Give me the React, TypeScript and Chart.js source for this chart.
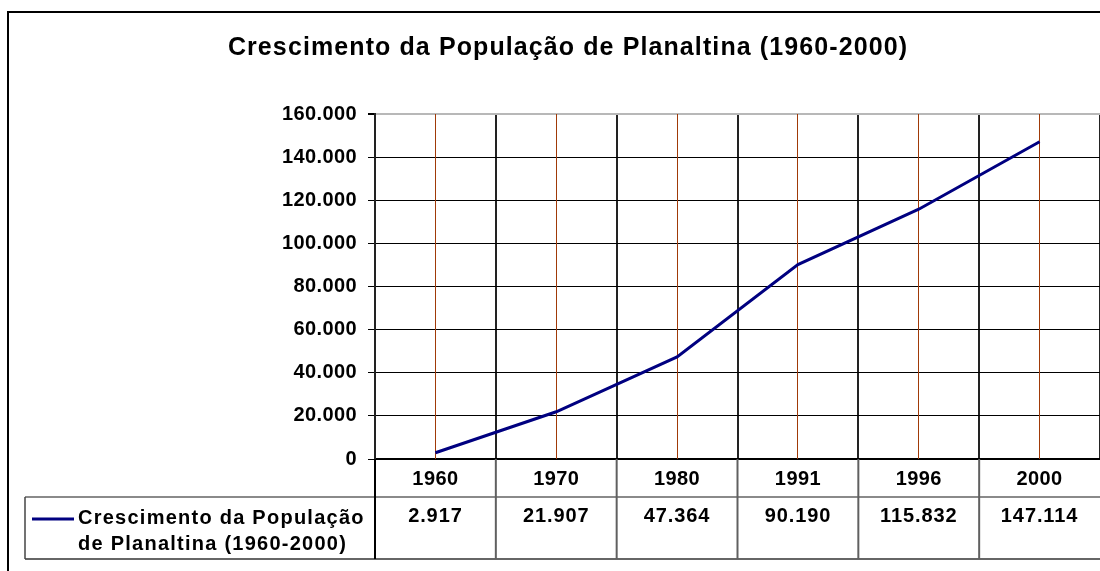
import React, { useEffect, useRef } from 'react';
import { Chart, registerables } from 'chart.js';

Chart.register(...registerables);

const titleText = 'Crescimento da População de Planaltina (1960-2000)';
const seriesNameLines = ['Crescimento da População', 'de Planaltina (1960-2000)'];
const years = ['1960', '1970', '1980', '1991', '1996', '2000'];
const population = [2917, 21907, 47364, 90190, 115832, 147114];
const populationLabels = ['2.917', '21.907', '47.364', '90.190', '115.832', '147.114'];
const yTickLabels = ['0', '20.000', '40.000', '60.000', '80.000', '100.000', '120.000', '140.000', '160.000'];
const yMax = 160000;
const yStep = 20000;

const FONT = '"Liberation Sans", Arial, Helvetica, sans-serif';
const NAVY = '#000080';

const decorPlugin = {
  id: 'excelDecor',
  beforeDraw(chart: any) {
    chart.ctx.letterSpacing = '0.4px';
  },
  beforeDatasetsDraw(chart: any) {
    const { ctx, chartArea, scales } = chart;
    const x = scales.x;
    ctx.save();
    ctx.strokeStyle = '#a03a08';
    ctx.lineWidth = 1;
    years.forEach((_, i) => {
      const px = Math.floor(x.getPixelForValue(i)) + 0.5;
      ctx.beginPath();
      ctx.moveTo(px, chartArea.top);
      ctx.lineTo(px, chartArea.bottom);
      ctx.stroke();
    });
    ctx.restore();
  },
  afterDraw(chart: any) {
    const { ctx, chartArea, scales } = chart;
    const x = scales.x;
    const rowTop = Math.round(x.bottom);
    const rowBottom = rowTop + 62;
    const legendLeft = 25;
    ctx.save();

    // horizontal table lines
    ctx.lineWidth = 2;
    ctx.strokeStyle = '#8a8a8a';
    ctx.beginPath();
    ctx.moveTo(legendLeft, rowTop);
    ctx.lineTo(chartArea.right, rowTop);
    ctx.stroke();
    ctx.strokeStyle = '#333';
    ctx.lineWidth = 1.5;
    ctx.beginPath();
    ctx.moveTo(legendLeft, rowBottom);
    ctx.lineTo(chartArea.right, rowBottom);
    ctx.stroke();

    // legend cell left border
    ctx.strokeStyle = '#444';
    ctx.beginPath();
    ctx.moveTo(legendLeft, rowTop);
    ctx.lineTo(legendLeft, rowBottom);
    ctx.stroke();

    // vertical table lines
    ctx.strokeStyle = '#000';
    ctx.lineWidth = 2;
    ctx.beginPath();
    ctx.moveTo(chartArea.left, chartArea.bottom);
    ctx.lineTo(chartArea.left, rowBottom);
    ctx.stroke();
    ctx.strokeStyle = '#606060';
    for (let i = 0; i < years.length - 1; i++) {
      const bx = (x.getPixelForValue(i) + x.getPixelForValue(i + 1)) / 2;
      ctx.beginPath();
      ctx.moveTo(bx, chartArea.bottom);
      ctx.lineTo(bx, rowBottom);
      ctx.stroke();
    }

    // values
    ctx.fillStyle = '#000';
    ctx.font = `bold 20px ${FONT}`;
    ctx.letterSpacing = '0.9px';
    ctx.textAlign = 'center';
    ctx.textBaseline = 'middle';
    populationLabels.forEach((lbl, i) => {
      ctx.fillText(lbl, x.getPixelForValue(i), rowTop + 19);
    });

    // legend
    ctx.strokeStyle = NAVY;
    ctx.lineWidth = 3;
    ctx.beginPath();
    ctx.moveTo(32, rowTop + 22);
    ctx.lineTo(74, rowTop + 22);
    ctx.stroke();
    ctx.textAlign = 'left';
    ctx.letterSpacing = '1.25px';
    ctx.fillText(seriesNameLines[0], 78, rowTop + 21);
    ctx.fillText(seriesNameLines[1], 78, rowTop + 47);

    // title
    ctx.font = `bold 25px ${FONT}`;
    ctx.letterSpacing = '1.1px';
    ctx.textAlign = 'center';
    ctx.fillText(titleText, 568, 48);

    // outer frame
    ctx.strokeStyle = '#000';
    ctx.lineWidth = 2;
    ctx.beginPath();
    ctx.moveTo(8, chart.height + 5);
    ctx.lineTo(8, 12);
    ctx.lineTo(chart.width + 5, 12);
    ctx.stroke();

    ctx.restore();
    ctx.letterSpacing = '0px';
  },
};

export default function App() {
  const ref = useRef<HTMLCanvasElement | null>(null);
  useEffect(() => {
    document.body.style.margin = '0';
    const canvas = ref.current;
    if (!canvas) return;
    const chart = new Chart(canvas, {
      type: 'line',
      data: {
        labels: years,
        datasets: [
          {
            label: seriesNameLines.join(' '),
            data: population,
            borderColor: NAVY,
            backgroundColor: NAVY,
            borderWidth: 3,
            pointRadius: 0,
            tension: 0,
            fill: false,
          },
        ],
      },
      options: {
        animation: false,
        responsive: false,
        devicePixelRatio: 1,
        layout: { padding: { top: 114, left: 0, right: 0, bottom: 74 } },
        plugins: {
          legend: { display: false },
          title: { display: false },
          tooltip: { enabled: false },
        },
        scales: {
          x: {
            type: 'category',
            offset: true,
            afterFit: (s: any) => {
              s.height = 38;
            },
            grid: {
              offset: true,
              color: '#222',
              lineWidth: 2,
              drawTicks: false,
            },
            border: { display: true, color: '#000', width: 2 },
            ticks: {
              color: '#000',
              font: { family: FONT, size: 20, weight: 'bold' },
              padding: 8,
              maxRotation: 0,
              autoSkip: false,
            },
          },
          y: {
            min: 0,
            max: yMax,
            afterFit: (s: any) => {
              s.width = 375;
            },
            grid: {
              color: (c: any) => (c.tick && c.tick.value === yMax ? '#b8b8b8' : '#000'),
              lineWidth: (c: any) => (c.tick && c.tick.value === yMax ? 2 : 1),
              tickColor: '#000',
              tickLength: 7,
            },
            border: { display: true, color: '#222', width: 2 },
            ticks: {
              stepSize: yStep,
              color: '#000',
              font: { family: FONT, size: 20, weight: 'bold' },
              padding: 11,
              callback: (_v: any, i: number) => yTickLabels[i],
            },
          },
        },
      },
      plugins: [decorPlugin],
    });
    return () => chart.destroy();
  }, []);
  return (
    <div style={{ position: 'absolute', left: 0, top: 0, width: 1100, height: 571, background: '#fff' }}>
      <canvas ref={ref} width={1100} height={571} />
    </div>
  );
}
